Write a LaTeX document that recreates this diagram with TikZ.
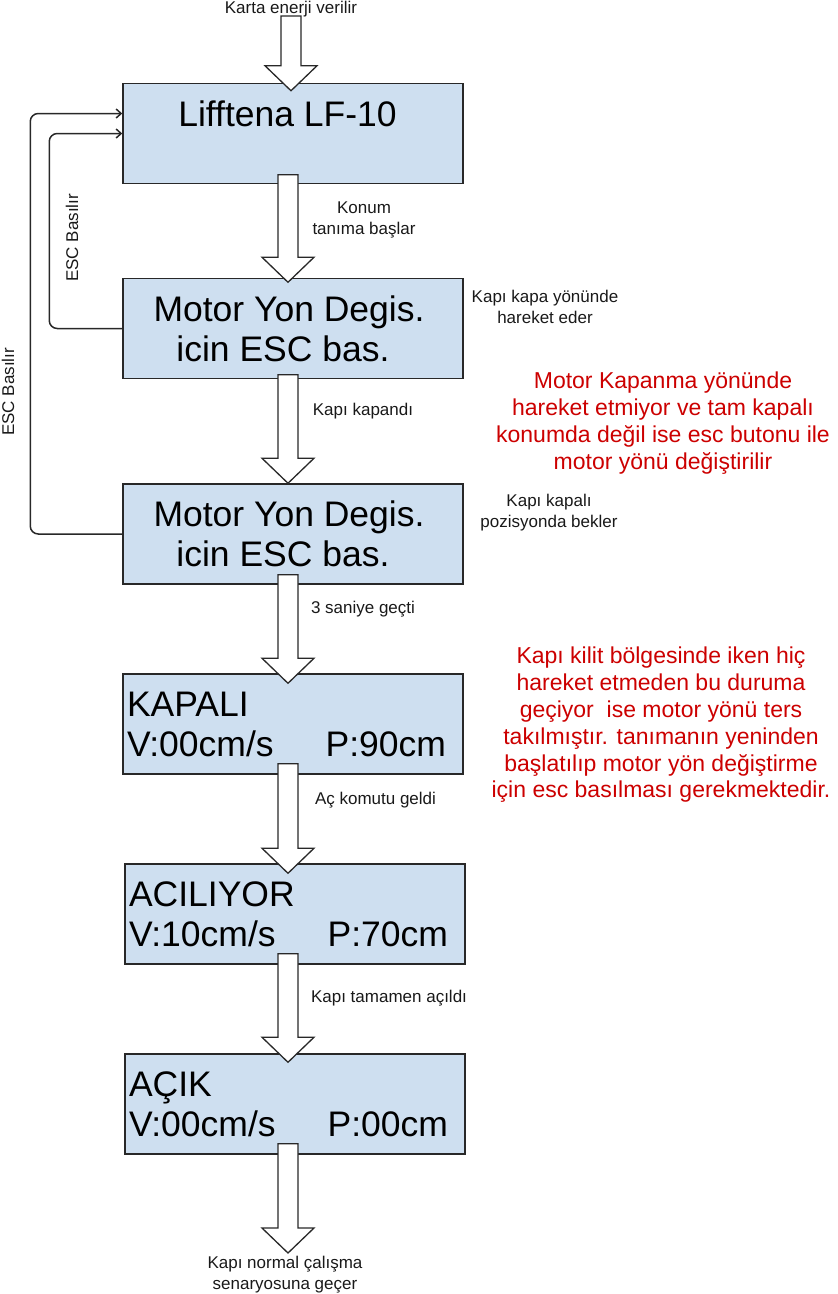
\documentclass[tikz,border=0pt]{standalone}
\usepackage{fontspec}
\setmainfont{Liberation Sans}
\usepackage{xcolor}
\usepackage{tikz}
\usetikzlibrary{arrows.meta}
\usetikzlibrary{calc}

\definecolor{kutumavi}{RGB}{206,223,240}
\definecolor{cizgi}{RGB}{40,40,40}
\definecolor{notkirmizi}{RGB}{204,0,0}

\tikzset{
  ekran/.style={draw=cizgi, fill=kutumavi, line width=1.5pt, minimum width=340pt,
    minimum height=100pt, inner sep=0pt, font=\fontsize{35.5}{40}\selectfont, align=center},
  durum/.style={ekran, text width=332pt, align=left},
  blok/.style={draw=cizgi, fill=white, line width=1.3pt},
  donus/.style={draw=cizgi, line width=1.5pt, rounded corners=8pt,
    -{Straight Barb[length=5pt,width=9pt]}},
  etiket/.style={font=\fontsize{17}{21}\selectfont, align=center, text=black!90},
  uyari/.style={font=\fontsize{23}{26.8}\selectfont, align=center, text=notkirmizi}
}

% kalin blok ok: #1 govde basi, #2 uc
\newcommand{\blokok}[2]{%
  \draw[blok] let \p1=#1, \p2=#2 in
    (\x1-10pt,\y1) -- (\x1+10pt,\y1) -- (\x1+10pt,\y2+25pt) -- (\x1+26pt,\y2+25pt)
    -- (\x1,\y2) -- (\x1-26pt,\y2+25pt) -- (\x1-10pt,\y2+25pt) -- cycle;}

\begin{document}
\begin{tikzpicture}[x=1pt,y=-1pt]
\useasboundingbox (0,0) rectangle (838,1294);

% ekranlar
\node[ekran] (lifftena) at (293,133.5) {Lifftena LF-10\hspace*{11pt}\\\mbox{}};
\node[ekran] (yon1) at (293,328.5) {Motor Yon Degis.\hspace*{8pt}\\icin ESC bas.\hspace*{20pt}};
\node[ekran] (yon2) at (293,534) {Motor Yon Degis.\hspace*{8pt}\\icin ESC bas.\hspace*{20pt}};
\node[durum] (kapali) at (293,724) {KAPALI\\V:00cm/s\hspace{52pt}P:90cm};
\node[durum] (aciliyor) at (295,914) {ACILIYOR\\V:10cm/s\hspace{52pt}P:70cm};
\node[durum] (acik) at (295,1104) {AÇIK\\V:00cm/s\hspace{52pt}P:00cm};

% ESC geri donusleri
\draw[donus] (yon1.west) -- ++(-73,0) |- (lifftena.west);
\draw[donus] (yon2.west) -- ++(-92,0) |- ($(lifftena.west)+(0,-20)$);
\node[etiket, rotate=90] (esc1) at (72,238) {ESC Basılır};
\node[etiket, rotate=90] (esc2) at (8,392) {ESC Basılır};

% akis oklari
\coordinate (giris) at (291,16);
\coordinate (cikis) at (288,1253);
\blokok{(giris)}{($(lifftena.north)+(-2,8)$)}
\blokok{($(lifftena.south)+(-5,-9.5)$)}{($(yon1.north)+(-5,4.5)$)}
\blokok{($(yon1.south)+(-5,-4.5)$)}{($(yon2.north)+(-5,0)$)}
\blokok{($(yon2.south)+(-5,-10)$)}{($(kapali.north)+(-5,10)$)}
\blokok{($(kapali.south)+(-5,-11)$)}{($(aciliyor.north)+(-7,10)$)}
\blokok{($(aciliyor.south)+(-7,-11)$)}{($(acik.north)+(-7,9)$)}
\blokok{($(acik.south)+(-7,-11)$)}{(cikis)}

% etiketler
\node[etiket, anchor=base] (karta) at (291,13) {Karta enerji verilir};
\node[etiket] (konum) at (364,219.5) {Konum\\tanıma başlar};
\node[etiket] (kapayon) at (545,307) {Kapı kapa yönünde\\hareket eder};
\node[etiket] (kapandi) at (363,411) {Kapı kapandı};
\node[etiket] (bekler) at (549,513) {Kapı kapalı\\pozisyonda bekler};
\node[etiket] (ucsaniye) at (363,609) {3 saniye geçti};
\node[etiket] (ackomut) at (375.5,800) {Aç komutu geldi};
\node[etiket] (tamamen) at (389,998) {Kapı tamamen açıldı};
\node[etiket] (normal) at (285,1275) {Kapı normal çalışma\\senaryosuna geçer};

% uyarilar
\node[uyari] (uyari1) at (663,423) {Motor Kapanma yönünde\\hareket etmiyor ve tam kapalı\\konumda değil ise esc butonu ile\\motor yönü değiştirilir};
\node[uyari] (uyari2) at (661,725) {Kapı kilit bölgesinde iken hiç\\hareket etmeden bu duruma\\geçiyor\ \ ise motor yönü ters\\takılmıştır. tanımanın yeninden\\başlatılıp motor yön değiştirme\\için esc basılması gerekmektedir.};
\end{tikzpicture}
\end{document}
